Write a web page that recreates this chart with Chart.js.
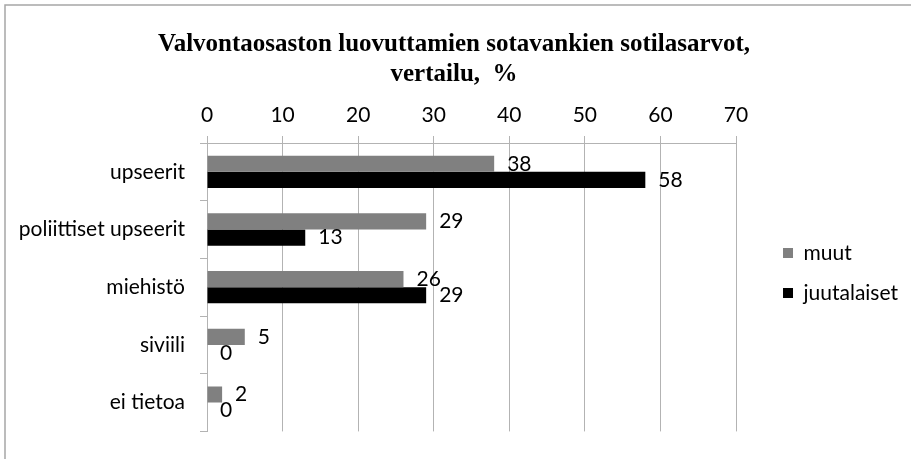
<!DOCTYPE html>
<html>
<head>
<meta charset="utf-8">
<script src="https://cdn.jsdelivr.net/npm/chart.js@4.4.1/dist/chart.umd.min.js"></script>
<style>
  html, body { margin: 0; padding: 0; background: #fff; }
  #wrap { width: 911px; height: 459px; position: relative; }
</style>
</head>
<body>
<div id="wrap"><canvas id="chart"></canvas></div>
<script>
// Chart data
const categories = ['upseerit', 'poliittiset upseerit', 'miehistö', 'siviili', 'ei tietoa'];
const muutValues = [38, 29, 26, 5, 2];
const juutalaisetValues = [58, 13, 29, 0, 0];
const xTicks = [0, 10, 20, 30, 40, 50, 60, 70];

const labelFont = { family: 'Lato', size: 21 };
const gridColor = '#b3b3b3';

// Value labels to the right of each bar end
const barLabels = {
    id: 'barLabels',
    afterDatasetsDraw(chart) {
        const ctx = chart.ctx;
        ctx.save();
        ctx.font = '21px Lato';
        ctx.fillStyle = '#000';
        ctx.textAlign = 'left';
        ctx.textBaseline = 'middle';
        chart.data.datasets.forEach((ds, i) => {
            const meta = chart.getDatasetMeta(i);
            meta.data.forEach((bar, j) => {
                ctx.fillText(String(ds.data[j]), bar.x + 13, bar.y);
            });
        });
        ctx.restore();
    }
};

// Outer frame of the chart object
const frame = {
    id: 'frame',
    beforeDraw(chart) {
        const ctx = chart.ctx;
        ctx.save();
        ctx.fillStyle = '#fff';
        ctx.fillRect(0, 0, chart.width, chart.height);
        ctx.strokeStyle = '#a6a6a6';
        ctx.lineWidth = 1.5;
        ctx.strokeRect(5, 5, chart.width + 10, chart.height + 10);
        ctx.restore();
    }
};

new Chart(document.getElementById('chart').getContext('2d'), {
    type: 'bar',
    data: {
        labels: categories,
        datasets: [
            {
                label: 'muut',
                data: muutValues,
                backgroundColor: '#808080',
                categoryPercentage: 0.56,
                barPercentage: 1.0
            },
            {
                label: 'juutalaiset',
                data: juutalaisetValues,
                backgroundColor: '#000000',
                categoryPercentage: 0.56,
                barPercentage: 1.0
            }
        ]
    },
    options: {
        indexAxis: 'y',
        responsive: true,
        maintainAspectRatio: false,
        animation: false,
        layout: {
            padding: { top: 0, bottom: 21, left: 0, right: 3 }
        },
        plugins: {
            title: {
                display: true,
                text: ['Valvontaosaston luovuttamien sotavankien sotilasarvot,', 'vertailu,  %'],
                color: '#000',
                font: { family: 'Liberation Serif', size: 25, weight: 'bold', lineHeight: 1.2 },
                padding: { top: 30, bottom: 4 }
            },
            legend: {
                display: true,
                position: 'right',
                align: 'start',
                fullSize: false,
                // blank title just pushes the items down to the middle
                title: {
                    display: true,
                    text: ' ',
                    font: { size: 10, lineHeight: 1.2 },
                    padding: { top: 34, bottom: 34.5 }
                },
                labels: {
                    boxWidth: 10,
                    boxHeight: 10,
                    padding: 19,
                    color: '#000',
                    font: labelFont
                }
            },
            tooltip: { enabled: false }
        },
        scales: {
            x: {
                position: 'top',
                min: 0,
                max: 70,
                afterBuildTicks: (scale) => {
                    scale.ticks = xTicks.map(v => ({ value: v }));
                },
                grid: {
                    color: gridColor,
                    lineWidth: 1,
                    drawTicks: true,
                    tickLength: 7
                },
                border: { display: true, color: gridColor },
                ticks: {
                    color: '#000',
                    font: labelFont,
                    padding: 8.4
                }
            },
            y: {
                afterFit: (scale) => { scale.width = 207; },
                grid: {
                    offset: true,
                    drawOnChartArea: false,
                    drawTicks: true,
                    tickLength: 7,
                    color: gridColor
                },
                border: { display: true, color: gridColor },
                ticks: {
                    color: '#000',
                    font: labelFont,
                    padding: 15
                }
            },
            gap: {
                type: 'linear',
                position: 'right',
                display: true,
                afterFit: (scale) => { scale.width = 28; },
                grid: { display: false },
                border: { display: false },
                ticks: { display: false }
            }
        }
    },
    plugins: [frame, barLabels]
});
</script>
</body>
</html>
